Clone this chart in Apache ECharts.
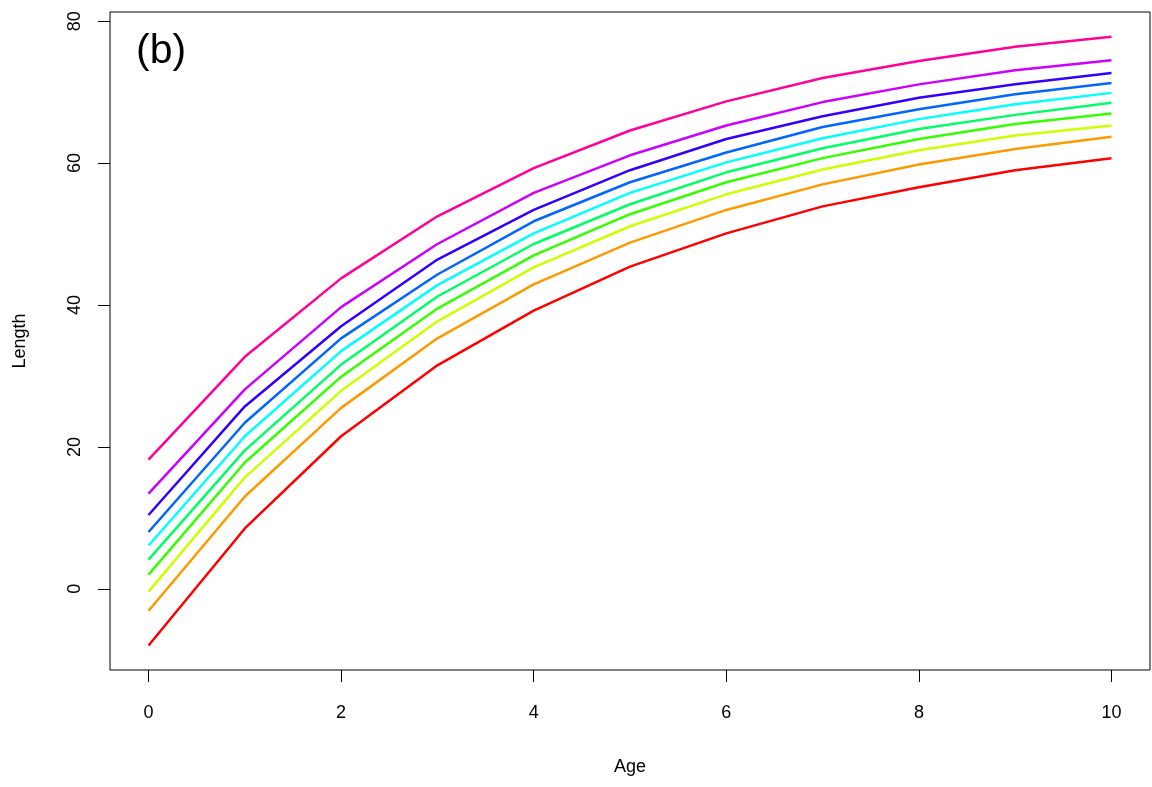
<!DOCTYPE html>
<html>
<head>
<meta charset="utf-8">
<script src="https://cdn.jsdelivr.net/npm/echarts@6/dist/echarts.min.js"></script>
<style>
html,body{margin:0;padding:0;background:#fff;}
#chart{width:1152px;height:787px;}
</style>
</head>
<body>
<div id="chart"></div>
<script>
var ages = [0,1,2,3,4,5,6,7,8,9,10];
var xTicks = [0,2,4,6,8,10];
var yTicks = [0,20,40,60,80];
var colors = ["#FF0000","#FF9900","#CCFF00","#33FF00","#00FF66","#00FFFF","#0066FF","#3300FF","#CC00FF","#FF0099"];
var curve1  = [-8.0, 8.5, 21.5, 31.5, 39.2, 45.4, 50.1, 53.9, 56.6, 59.0, 60.7];
var curve2  = [-3.1, 13.0, 25.5, 35.3, 42.9, 48.8, 53.4, 57.0, 59.8, 62.0, 63.7];
var curve3  = [-0.4, 15.7, 27.9, 37.7, 45.3, 51.1, 55.6, 59.1, 61.8, 63.9, 65.3];
var curve4  = [2.0, 17.8, 29.9, 39.5, 47.0, 52.8, 57.3, 60.7, 63.4, 65.5, 67.0];
var curve5  = [4.1, 19.5, 31.6, 41.2, 48.6, 54.2, 58.7, 62.1, 64.8, 66.8, 68.5];
var curve6  = [6.1, 21.5, 33.5, 42.8, 50.1, 55.8, 60.1, 63.5, 66.2, 68.3, 69.9];
var curve7  = [8.0, 23.4, 35.3, 44.3, 51.8, 57.3, 61.5, 65.1, 67.6, 69.7, 71.3];
var curve8  = [10.4, 25.7, 37.0, 46.4, 53.4, 59.0, 63.4, 66.6, 69.2, 71.1, 72.7];
var curve9  = [13.4, 28.1, 39.7, 48.6, 55.8, 61.1, 65.3, 68.6, 71.1, 73.1, 74.5];
var curve10 = [18.2, 32.7, 43.75, 52.5, 59.3, 64.6, 68.7, 72.0, 74.4, 76.4, 77.8];
var curves = [curve1,curve2,curve3,curve4,curve5,curve6,curve7,curve8,curve9,curve10];

var font = "Liberation Sans, Arial, sans-serif";
var series = curves.map(function(c, i){
  return {
    type: 'line',
    data: ages.map(function(a, j){ return [a, c[j]]; }),
    symbol: 'none',
    lineStyle: {color: colors[i], width: 2.5},
    itemStyle: {color: colors[i]},
    animation: false
  };
});

var chart = echarts.init(document.getElementById('chart'), null, {renderer: 'canvas'});
chart.setOption({
  backgroundColor: '#fff',
  animation: false,
  title: {
    text: '(b)', left: 131, top: 26,
    textStyle: {fontFamily: font, fontSize: 41, fontWeight: 'normal', color: '#000'}
  },
  grid: {left: 110, right: 2, top: 12, bottom: 117, show: true, borderColor: '#000', borderWidth: 1,
         backgroundColor: 'transparent', containLabel: false, outerBoundsMode: 'none'},
  xAxis: {
    type: 'value', min: -0.4, max: 10.4,
    name: 'Age', nameLocation: 'middle', nameGap: 88,
    nameTextStyle: {fontFamily: font, fontSize: 18, color: '#000'},
    axisLine: {show: false, onZero: false},
    splitLine: {show: false},
    axisTick: {show: true, inside: false, length: 12, customValues: xTicks, lineStyle: {color: '#000', width: 1}},
    axisLabel: {customValues: xTicks, margin: 34, fontFamily: font, fontSize: 18, color: '#000'}
  },
  yAxis: {
    type: 'value', min: -11.45, max: 81.3,
    name: 'Length', nameLocation: 'middle', nameGap: 81, nameRotate: 90,
    nameTextStyle: {fontFamily: font, fontSize: 18, color: '#000'},
    axisLine: {show: false, onZero: false},
    splitLine: {show: false},
    axisTick: {show: true, inside: false, length: 12, customValues: yTicks, lineStyle: {color: '#000', width: 1}},
    axisLabel: {customValues: yTicks, rotate: 90, margin: 26, fontFamily: font, fontSize: 18, color: '#000'}
  },
  series: series
});
</script>
</body>
</html>
